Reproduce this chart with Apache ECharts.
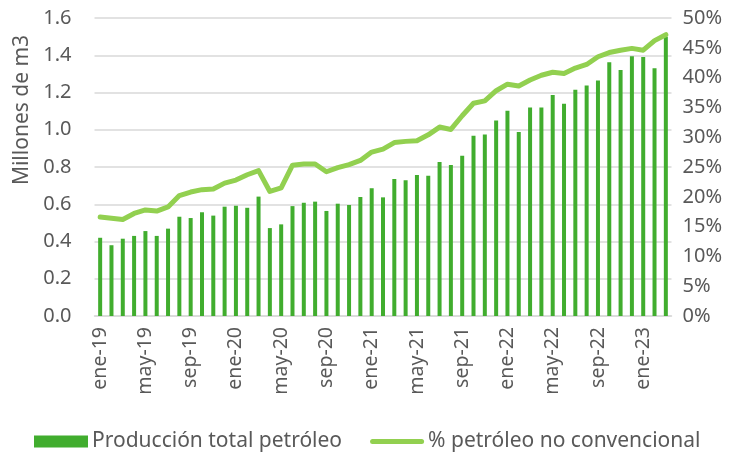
<!DOCTYPE html>
<html>
<head>
<meta charset="utf-8">
<script src="https://cdn.jsdelivr.net/npm/echarts@6/dist/echarts.min.js"></script>
<style>
  html, body { margin: 0; padding: 0; background: #fff; }
  #chart { width: 736px; height: 459px; }
</style>
</head>
<body>
<div id="chart"></div>
<script>
// Meses (ene-19 a mar-23)
const months = [
    'ene-19', 'feb-19', 'mar-19', 'abr-19', 'may-19', 'jun-19', 'jul-19', 'ago-19', 'sep-19', 'oct-19', 'nov-19', 'dic-19',
    'ene-20', 'feb-20', 'mar-20', 'abr-20', 'may-20', 'jun-20', 'jul-20', 'ago-20', 'sep-20', 'oct-20', 'nov-20', 'dic-20',
    'ene-21', 'feb-21', 'mar-21', 'abr-21', 'may-21', 'jun-21', 'jul-21', 'ago-21', 'sep-21', 'oct-21', 'nov-21', 'dic-21',
    'ene-22', 'feb-22', 'mar-22', 'abr-22', 'may-22', 'jun-22', 'jul-22', 'ago-22', 'sep-22', 'oct-22', 'nov-22', 'dic-22',
    'ene-23', 'feb-23', 'mar-23'
];

// Producción total petróleo (millones de m3)
const produccion = [
    0.42, 0.38, 0.415, 0.43, 0.456, 0.43, 0.469, 0.533, 0.526, 0.557, 0.539, 0.587,
    0.592, 0.581, 0.641, 0.472, 0.492, 0.59, 0.608, 0.614, 0.564, 0.603, 0.596, 0.639,
    0.686, 0.637, 0.736, 0.729, 0.757, 0.753, 0.827, 0.811, 0.861, 0.968, 0.975, 1.049,
    1.102, 0.988, 1.12, 1.12, 1.187, 1.14, 1.215, 1.238, 1.265, 1.362, 1.321, 1.394,
    1.391, 1.33, 1.5
];

// % petróleo no convencional
const noConvencional = [
    16.6, 16.4, 16.2, 17.2, 17.8, 17.6, 18.3, 20.2, 20.8, 21.2, 21.3, 22.3,
    22.8, 23.7, 24.4, 20.9, 21.5, 25.3, 25.5, 25.5, 24.2, 24.9, 25.4, 26.1,
    27.5, 28.0, 29.1, 29.3, 29.4, 30.4, 31.7, 31.3, 33.6, 35.7, 36.1, 37.8,
    38.9, 38.6, 39.6, 40.4, 40.9, 40.7, 41.6, 42.2, 43.5, 44.2, 44.6, 44.9,
    44.6, 46.2, 47.2
];

const leftTicks = { min: 0, max: 1.6, interval: 0.2 };
const rightTicks = { min: 0, max: 50, interval: 5 };

const TEXT_COLOR = '#595959';
const GRID_COLOR = '#d9d9d9';
const BAR_COLOR = '#41ad2e';
const LINE_COLOR = '#92d050';
const FONT = 'Noto Sans';

const chart = echarts.init(document.getElementById('chart'));

chart.setOption({
    animation: false,
    textStyle: { fontFamily: FONT },
    grid: { left: 94.5, right: 64.5, top: 18, bottom: 143 },
    legend: {
        bottom: 2,
        left: 29,
        itemWidth: 54,
        itemHeight: 12,
        itemGap: 28,
        textStyle: { fontSize: 21, color: TEXT_COLOR, fontFamily: FONT, padding: [0, 0, 0, -1] },
        data: [
            { name: 'Producción total petróleo', icon: 'rect' },
            { name: '% petróleo no convencional', icon: 'path://M2.5,0 L51.5,0 A2.5,2.5 0 0 1 51.5,5 L2.5,5 A2.5,2.5 0 0 1 2.5,0 Z' }
        ]
    },
    graphic: [{
        type: 'text',
        x: 22,
        y: 110,
        rotation: Math.PI / 2,
        style: {
            text: 'Millones de m3',
            fontFamily: FONT,
            fontSize: 21,
            fill: TEXT_COLOR,
            align: 'center',
            verticalAlign: 'middle'
        }
    }],
    xAxis: {
        type: 'category',
        data: months,
        axisLine: { lineStyle: { color: GRID_COLOR, width: 1.5 } },
        axisTick: { show: false },
        axisLabel: {
            interval: 3,
            rotate: 90,
            fontSize: 19.5,
            color: TEXT_COLOR,
            margin: 11
        }
    },
    yAxis: [{
        type: 'value',
        min: leftTicks.min,
        max: leftTicks.max,
        interval: leftTicks.interval,
        axisLine: { show: false },
        axisTick: { show: false },
        splitLine: { lineStyle: { color: GRID_COLOR, width: 1.5 } },
        axisLabel: {
            fontSize: 20,
            color: TEXT_COLOR,
            margin: 23,
            formatter: v => v.toFixed(1)
        }
    }, {
        type: 'value',
        min: rightTicks.min,
        max: rightTicks.max,
        interval: rightTicks.interval,
        axisLine: { show: false },
        axisTick: { show: false },
        splitLine: { show: false },
        axisLabel: {
            fontSize: 20,
            color: TEXT_COLOR,
            margin: 11,
            formatter: v => v + '%'
        }
    }],
    series: [{
        name: 'Producción total petróleo',
        type: 'bar',
        data: produccion,
        barWidth: 4,
        itemStyle: { color: BAR_COLOR }
    }, {
        name: '% petróleo no convencional',
        type: 'line',
        yAxisIndex: 1,
        data: noConvencional,
        symbol: 'none',
        itemStyle: { color: LINE_COLOR },
        lineStyle: { color: LINE_COLOR, width: 5, cap: 'round', join: 'round' }
    }]
});
</script>
</body>
</html>
